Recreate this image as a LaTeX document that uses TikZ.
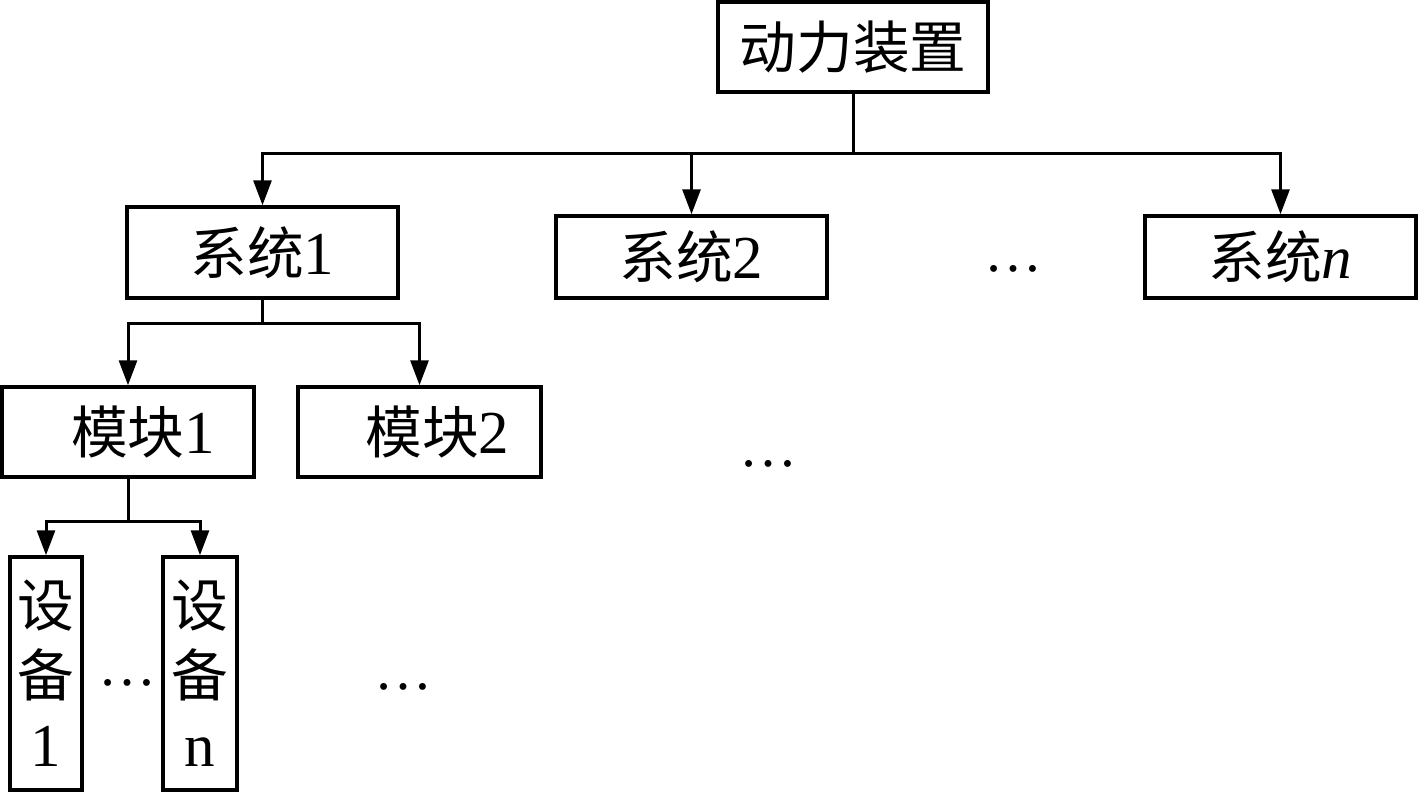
\documentclass[tikz,border=0pt]{standalone}
\usepackage{fontspec}
\setmainfont{Liberation Serif}
\newfontfamily\cjk[Scale=0.93]{Noto Sans CJK SC}
\usetikzlibrary{arrows.meta}
\begin{document}
\begin{tikzpicture}[x=1pt,y=-1pt,
  box/.style={draw,line width=3.5pt,inner sep=0pt,font=\fontsize{61}{64}\selectfont},
  conn/.style={line width=3pt,line join=miter},
  arr/.style={conn,-{Triangle[length=25pt,width=18pt]}},
  dotsnode/.style={font=\fontsize{58}{60}\selectfont,inner sep=0pt}]
\useasboundingbox (0,0) rectangle (1418,793);
% boxes
\node[box,minimum width=270pt,minimum height=90pt] (top) at (853,47) {{\cjk 动力装置}};
\node[box,minimum width=271pt,minimum height=91pt] (s1) at (262.5,252.5) {{\cjk 系统}1};
\node[box,minimum width=271pt,minimum height=82pt] (s2) at (691.5,257) {{\cjk 系统}2};
\node[box,minimum width=271pt,minimum height=82pt] (sn) at (1280.5,257) {{\cjk 系统}\textit{n}};
\node[box,minimum width=252pt,minimum height=90pt] (m1) at (128,432) {\hspace*{30pt}{\cjk 模块}1};
\node[box,minimum width=243pt,minimum height=90pt] (m2) at (419.5,432) {\hspace*{36pt}{\cjk 模块}2};
\node[box,minimum width=72pt,minimum height=233pt,align=center,font=\fontsize{61}{70}\selectfont] (d1) at (46,673.5) {{\cjk 设}\\{\cjk 备}\\1};
\node[box,minimum width=74pt,minimum height=233pt,align=center,font=\fontsize{61}{70}\selectfont] (dn) at (200,673.5) {{\cjk 设}\\{\cjk 备}\\n};
% dots
\node[dotsnode] (dt1) at (1013,269) {…};
\node[dotsnode] (dt2) at (768,464) {…};
\node[dotsnode] (dt3) at (127,683) {…};
\node[dotsnode] (dt4) at (403,687) {…};
% buses
\coordinate (b1) at (853,153);
\coordinate (b2) at (262.5,323);
\coordinate (b3) at (128,521);
\draw[conn] (top.south) -- (b1);
\draw[arr] (b1) -| (s1.north);
\draw[arr] (b1) -| (sn.north);
\draw[arr] (s2.north |- b1) -- (s2.north);
\draw[conn] (s1.south) -- (b2);
\draw[arr] (b2) -| (m1.north);
\draw[arr] (b2) -| (m2.north);
\draw[conn] (m1.south) -- (b3);
\draw[arr] (b3) -| (d1.north);
\draw[arr] (b3) -| (dn.north);
\end{tikzpicture}
\end{document}
